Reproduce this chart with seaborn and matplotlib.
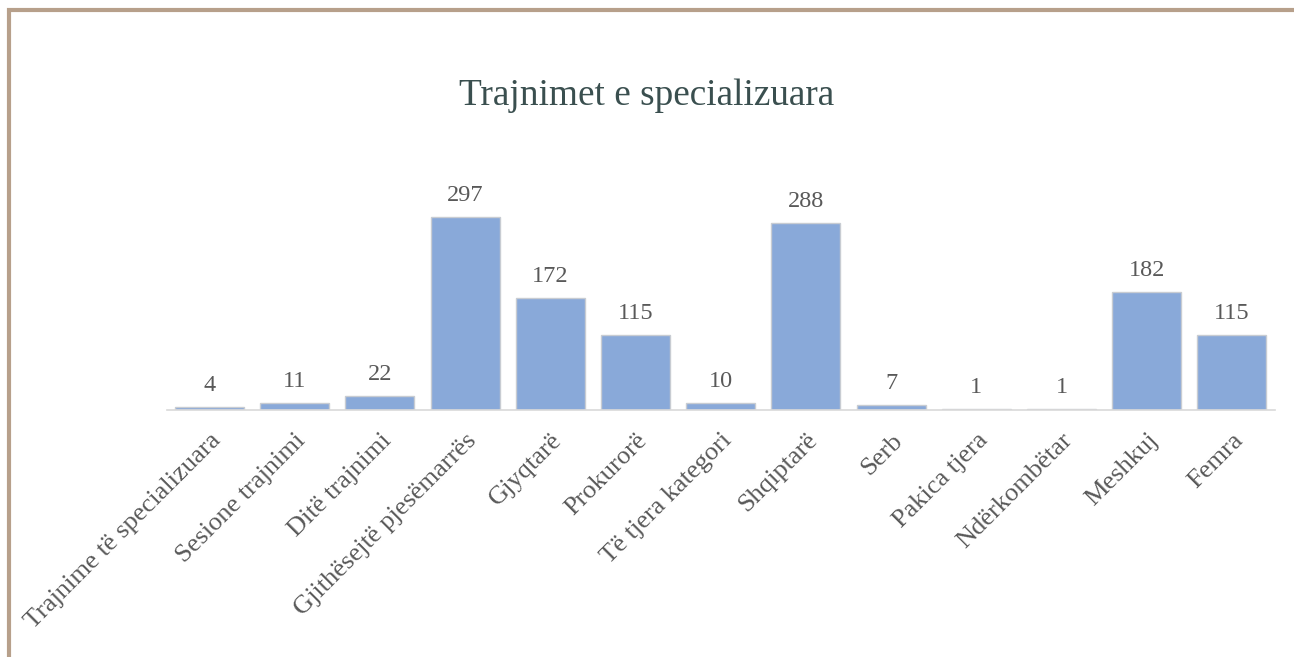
import numpy as np
import pandas as pd
import matplotlib
matplotlib.use("Agg")
import matplotlib.pyplot as plt
import seaborn as sns
from matplotlib.patches import Rectangle

categories = ['Trajnime të specializuara', 'Sesione trajnimi', 'Ditë trajnimi',
              'Gjithësejtë pjesëmarrës', 'Gjyqtarë', 'Prokurorë', 'Të tjera kategori',
              'Shqiptarë', 'Serb', 'Pakica tjera', 'Ndërkombëtar', 'Meshkuj', 'Femra']
values = [4, 11, 22, 297, 172, 115, 10, 288, 7, 1, 1, 182, 115]

df = pd.DataFrame({'Kategoria': categories, 'Numri': values})

sns.set_style("white")
plt.rcParams['font.family'] = ['Liberation Serif', 'DejaVu Serif']

fig = plt.figure(figsize=(12.94, 6.57), dpi=100)
ax = fig.add_axes([0.129, 0.376, 0.856, 0.396])

sns.barplot(data=df, x='Kategoria', y='Numri', color='#89A9D9', width=0.81,
            edgecolor='#C8CCD2', linewidth=1, saturation=1, ax=ax)

ax.set_ylim(0, 400)
ax.set_yticks([])
ax.set_xlabel('')
ax.set_ylabel('')
for s in ['top', 'right', 'left']:
    ax.spines[s].set_visible(False)
ax.spines['bottom'].set_color('#D9D9D9')
ax.spines['bottom'].set_linewidth(1.2)
ax.tick_params(axis='x', length=0, pad=14)
plt.setp(ax.get_xticklabels(), rotation=45, ha='right', rotation_mode='anchor',
         fontsize=19, color='#595959')

# value labels above bars
for i, v in enumerate(values):
    ax.text(i, v + 17, str(v), ha='center', va='bottom', fontsize=17.5, color='#595959')

fig.text(0.5, 0.855, 'Trajnimet e specializuara', ha='center', va='center',
         fontsize=26.8, color='#3A4F4F')

# outer frame
fig.patches.append(Rectangle((8.5 / 1294, -0.1), 1.2, 1 - 9.5 / 657 + 0.1,
                             transform=fig.transFigure, fill=False,
                             edgecolor='#B7A08B', linewidth=3))

fig.savefig('out.png', dpi=100)
